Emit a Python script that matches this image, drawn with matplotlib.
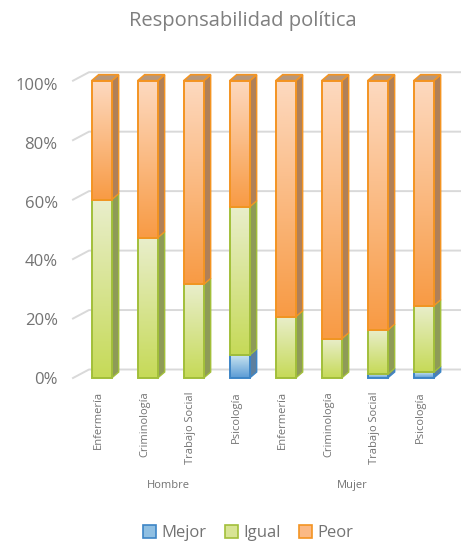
import matplotlib
matplotlib.use("Agg")

import matplotlib.pyplot as plt
import numpy as np
from matplotlib.patches import Rectangle, Polygon, Patch
from matplotlib.colors import LinearSegmentedColormap

# ── data ─────────────────────────────────────────────────────────
careers = ["Enfermería", "Criminología", "Trabajo Social", "Psicología"] * 2
groups = ["Hombre", "Mujer"]
series = ["Mejor", "Igual", "Peor"]
mejor = [0, 0, 0, 7.7, 0, 0, 1.2, 1.9]
igual = [60.0, 47.2, 31.5, 49.9, 20.6, 13.2, 14.9, 22.4]
peor = [100 - m - i for m, i in zip(mejor, igual)]
yticks = [0, 20, 40, 60, 80, 100]
ytick_labels = ["0%", "20%", "40%", "60%", "80%", "100%"]

# ── styles: (gradient bottom, gradient top, edge, side, top) ─────
styles = {
    "Mejor": ("#5b9bd5", "#c8e4f0", "#3d85c6", "#5d7f9e", "#7f9bb5"),
    "Igual": ("#c6da58", "#e9eecb", "#a2bf3a", "#8e9b57", "#a9b46a"),
    "Peor": ("#f89b45", "#fdd9bf", "#f39422", "#b08058", "#b8977a"),
}
legend_fill = {"Mejor": "#8fbfe2", "Igual": "#d8e494", "Peor": "#fbb985"}
TXT = "#737373"
FONT = "Open Sans"

W, H = 461, 547
fig = plt.figure(figsize=(W / 100, H / 100), dpi=100)
ax = fig.add_axes([78.7 / W, 1 - 378 / H, 368 / W, 297.3 / H])
ax.set_xlim(-0.5, 7.5)
ax.set_ylim(0, 100)
ax.axis("off")

px_x = 1 / 46.0        # data units per pixel (x)
px_y = 100 / 297.3     # data units per pixel (y)

# ── 3D gridlines (back wall) ─────────────────────────────────────
gdx, gdy = 16 * px_x, 8.5 * px_y
x_left = (73 - 101.7) * px_x
x_right = (461 - 101.7) * px_x
for v in yticks:
    ax.plot([x_left, x_left + gdx, x_right], [v, v + gdy, v + gdy],
            color="#d9d9d9", lw=1.4, clip_on=False, zorder=1)

# ── bars ─────────────────────────────────────────────────────────
bw = 20 * px_x
ddx, ddy = 7 * px_x, 6 * px_y
grad = np.linspace(0, 1, 64).reshape(-1, 1)

for i in range(len(careers)):
    x0 = i - bw / 2
    x1 = i + bw / 2
    bottom = 0.0
    vals = [mejor[i], igual[i], peor[i]]
    for k, (name, v) in enumerate(zip(series, vals)):
        if v <= 0:
            continue
        c_bot, c_top, c_edge, c_side, c_topf = styles[name]
        y0, y1 = bottom, bottom + v
        # side face
        side = Polygon([(x1, y0), (x1 + ddx, y0 + ddy), (x1 + ddx, y1 + ddy), (x1, y1)],
                       closed=True, facecolor=c_side, edgecolor=c_edge, lw=1.0,
                       zorder=3, clip_on=False)
        ax.add_patch(side)
        # top face only on the last segment
        if k == len(vals) - 1:
            top = Polygon([(x0, y1), (x0 + ddx, y1 + ddy), (x1 + ddx, y1 + ddy), (x1, y1)],
                          closed=True, facecolor=c_topf, edgecolor=c_edge, lw=1.2,
                          zorder=3, clip_on=False)
            ax.add_patch(top)
        # front face with vertical gradient
        cmap = LinearSegmentedColormap.from_list(name, [c_bot, c_top])
        rect = Rectangle((x0, y0), bw, v, facecolor="none", edgecolor=c_edge,
                         lw=1.4, zorder=5, clip_on=False)
        ax.add_patch(rect)
        im = ax.imshow(grad, cmap=cmap, origin="lower", aspect="auto",
                       extent=(x0, x1, y0, y1), zorder=4, interpolation="bilinear")
        im.set_clip_path(rect)
        bottom = y1

ax.set_xlim(-0.5, 7.5)
ax.set_ylim(0, 100)

# ── axis labels ──────────────────────────────────────────────────
for v, lab in zip(yticks, ytick_labels):
    y_lab = (2.94 * v - 2) * px_y
    ax.text(-0.5 - 21 * px_x, y_lab, lab, ha="right", va="center",
            fontsize=12, color=TXT, family=FONT, clip_on=False)

for i, lab in enumerate(careers):
    ax.text(i - 3 * px_x, -13 * px_y, lab, rotation=90, ha="center", va="top",
            fontsize=8, color=TXT, family=FONT, clip_on=False)

for g, lab in enumerate(groups):
    ax.text(g * 4 + 1.45, -107 * px_y, lab, ha="center", va="center",
            fontsize=8, color=TXT, family=FONT, clip_on=False)

# ── title and legend ─────────────────────────────────────────────
fig.text(243 / W, 1 - 21 / H, "Responsabilidad política", ha="center", va="center",
         fontsize=14.5, color="#7f7f7f", family=FONT)

handles = [Patch(facecolor=legend_fill[s], edgecolor=styles[s][2], lw=1.2) for s in series]
leg = fig.legend(handles, series, loc="center", bbox_to_anchor=(248 / W, 1 - 533 / H),
                 ncol=3, frameon=False, handlelength=0.8, handleheight=0.8,
                 handletextpad=0.3, columnspacing=1.1,
                 prop={"family": FONT, "size": 12})
for t in leg.get_texts():
    t.set_color(TXT)

fig.savefig("out.png", dpi=100)
